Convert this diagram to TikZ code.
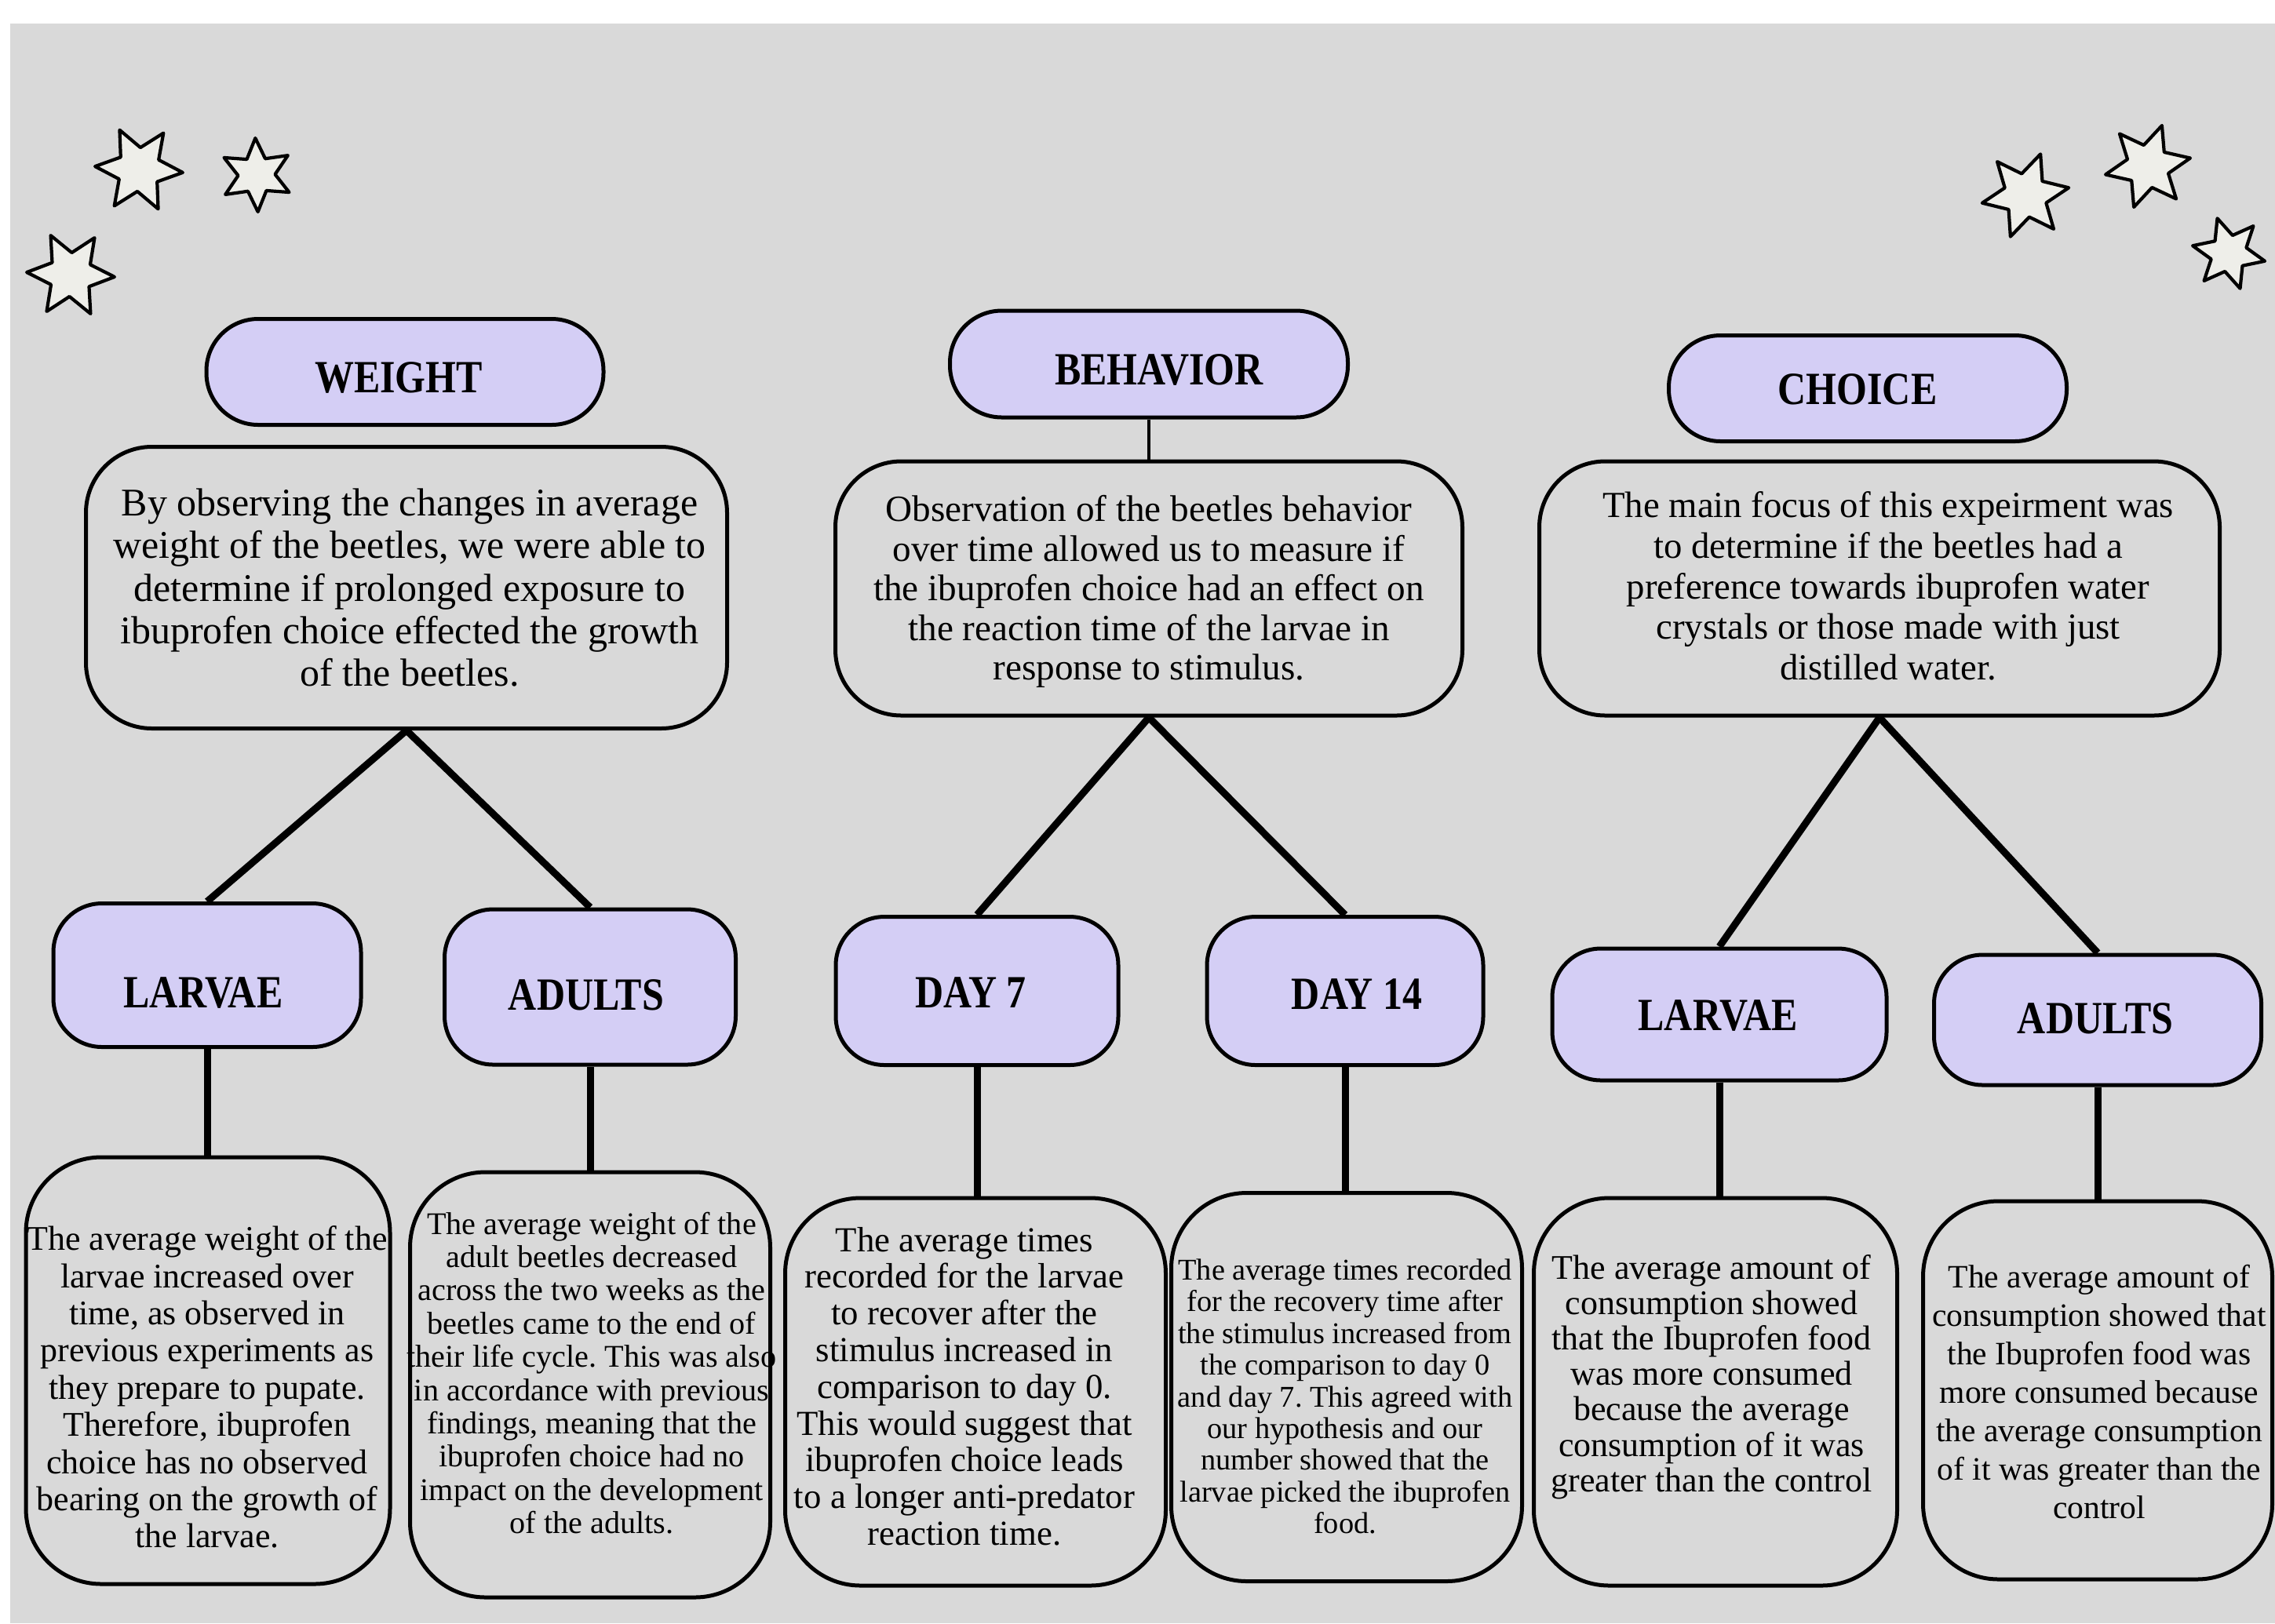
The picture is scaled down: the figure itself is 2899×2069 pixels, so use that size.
\documentclass[tikz,border=0pt]{standalone}
\usepackage{fontspec}
\setmainfont{Liberation Serif}
\newfontfamily\headfont{Liberation Serif}[FakeStretch=0.85]
\usetikzlibrary{backgrounds}

\definecolor{panel}{RGB}{217,217,217}
\definecolor{lavender}{RGB}{212,206,245}
\definecolor{starfill}{RGB}{238,238,233}

\tikzset{
  sixstar/.pic={
    \filldraw[fill=starfill, draw=black, line width=1.05pt, line join=round]
      (0:1) -- (30:.5) -- (60:1) -- (90:.5) -- (120:1) -- (150:.5) --
      (180:1) -- (210:.5) -- (240:1) -- (270:.5) -- (300:1) -- (330:.5) -- cycle;
  }
}

\begin{document}
\frenchspacing
\begin{tikzpicture}[x=0.25pt, y=-0.25pt,
  boxsize/.style 2 args={minimum width=#1*0.25pt, minimum height=#2*0.25pt},
  titlebox/.style={draw=black, line width=1.25pt, fill=lavender, inner sep=0pt, rounded corners=16.5pt},
  subbox/.style={draw=black, line width=1.25pt, fill=lavender, inner sep=0pt, rounded corners=15.5pt},
  descbox/.style={draw=black, line width=1.25pt, fill=panel, inner sep=0pt, rounded corners=21pt},
  bodybox/.style={draw=black, line width=1.25pt, fill=panel, inner sep=0pt, rounded corners=24pt},
  headtext/.style={inner sep=0pt, text height=9.7pt, text depth=0pt,
    font=\headfont\bfseries\fontsize{14.7pt}{16pt}\selectfont},
  bodytext/.style={inner sep=0pt, align=center},
  link/.style={line width=2.25pt},
  thinlink/.style={line width=1.1pt}
]
\useasboundingbox (0,0) rectangle (2899,2069);

% panel behind everything
\begin{scope}[on background layer]
  \fill[panel] (13,30) rectangle (2899,2069);
\end{scope}

% decorative stars
\pic[scale=56, rotate=-4] at (177,216) {sixstar};
\pic[scale=47, rotate=32] at (327,223) {sixstar};
\pic[scale=56, rotate=-3] at (90,350) {sixstar};
\pic[scale=56, rotate=10] at (2581,249) {sixstar};
\pic[scale=55, rotate=11] at (2737,212) {sixstar};
\pic[scale=47, rotate=48] at (2840,323) {sixstar};

% headings
\node[titlebox, boxsize={506}{135}] (weight) at (516,474) {};
\node[titlebox, boxsize={507}{136}] (behavior) at (1464,464) {};
\node[titlebox, boxsize={507}{135}] (choice) at (2380,495) {};
\node[headtext] (weight-t) at (508,481) {WEIGHT};
\node[headtext] (behavior-t) at (1477,471) {BEHAVIOR};
\node[headtext] (choice-t) at (2367,496) {CHOICE};

% summaries
\node[descbox, boxsize={817}{359}] (wdesc) at (518,749) {};
\node[descbox, boxsize={799}{324}] (bdesc) at (1464,750) {};
\node[descbox, boxsize={867}{324}] (cdesc) at (2395,750) {};
\node[bodytext, font=\fontsize{12.5pt}{13.6pt}\selectfont] (wdesc-t) at (522,749)
  {By observing the changes in average\\weight of the beetles, we were able to\\determine if prolonged exposure to\\ibuprofen choice effected the growth\\of the beetles.};
\node[bodytext, font=\fontsize{11.8pt}{12.6pt}\selectfont] (bdesc-t) at (1464,754)
  {Observation of the beetles behavior\\over time allowed us to measure if\\the ibuprofen choice had an effect on\\the reaction time of the larvae in\\response to stimulus.};
\node[bodytext, font=\fontsize{11.7pt}{12.9pt}\selectfont] (cdesc-t) at (2406,747)
  {The main focus of this expeirment was\\to determine if the beetles had a\\preference towards ibuprofen water\\crystals or those made with just\\distilled water.};

% sub-headings
\node[subbox, boxsize={392}{183}] (wlarvae) at (264,1243) {};
\node[subbox, boxsize={371}{198}] (wadults) at (752,1258) {};
\node[subbox, boxsize={360}{189}] (day7) at (1245,1263) {};
\node[subbox, boxsize={352}{189}] (day14) at (1714,1263) {};
\node[subbox, boxsize={426}{168}] (clarvae) at (2191,1293) {};
\node[subbox, boxsize={417}{166}] (cadults) at (2673,1300) {};
\node[headtext] (wlarvae-t) at (259,1265) {LARVAE};
\node[headtext] (wadults-t) at (747,1268) {ADULTS};
\node[headtext] (day7-t) at (1237,1265) {DAY 7};
\node[headtext] (day14-t) at (1729,1267) {DAY 14};
\node[headtext] (clarvae-t) at (2189,1294) {LARVAE};
\node[headtext] (cadults-t) at (2670,1298) {ADULTS};

% result boxes
\node[bodybox, boxsize={464}{544}] (b1) at (265,1747) {};
\node[bodybox, boxsize={459}{542}] (b2) at (752,1765) {};
\node[bodybox, boxsize={485}{494}] (b3) at (1243,1774) {};
\node[bodybox, boxsize={447}{495}] (b4) at (1716,1768) {};
\node[bodybox, boxsize={463}{494}] (b5) at (2186,1774) {};
\node[bodybox, boxsize={445}{482}] (b6) at (2673,1772) {};

\node[bodytext, font=\fontsize{11pt}{11.85pt}\selectfont] (b1t) at (264,1768)
  {The average weight of the\\larvae increased over\\time, as observed in\\previous experiments as\\they prepare to pupate.\\Therefore, ibuprofen\\choice has no observed\\bearing on the growth of\\the larvae.};
\node[bodytext, font=\fontsize{10.05pt}{10.6pt}\selectfont] (b2t) at (754,1750)
  {The average weight of the\\adult beetles decreased\\across the two weeks as the\\beetles came to the end of\\their life cycle. This was also\\in accordance with previous\\findings, meaning that the\\ibuprofen choice had no\\impact on the development\\of the adults.};
\node[bodytext, font=\fontsize{11.2pt}{11.7pt}\selectfont] (b3t) at (1229,1767)
  {The average times\\recorded for the larvae\\to recover after the\\stimulus increased in\\comparison to day 0.\\This would suggest that\\ibuprofen choice leads\\to a longer anti-predator\\reaction time.};
\node[bodytext, font=\fontsize{9.6pt}{10.1pt}\selectfont] (b4t) at (1714,1780)
  {The average times recorded\\for the recovery time after\\the stimulus increased from\\the comparison to day 0\\and day 7. This agreed with\\our hypothesis and our\\number showed that the\\larvae picked the ibuprofen\\food.};
\node[bodytext, font=\fontsize{11pt}{11.3pt}\selectfont] (b5t) at (2181,1755)
  {The average amount of\\consumption showed\\that the Ibuprofen food\\was more consumed\\because the average\\consumption of it was\\greater than the control};
\node[bodytext, font=\fontsize{10.4pt}{12.25pt}\selectfont] (b6t) at (2675,1774)
  {The average amount of\\consumption showed that\\the Ibuprofen food was\\more consumed because\\the average consumption\\of it was greater than the\\control};

% connectors
\begin{scope}[on background layer]
  \draw[thinlink] (behavior.south) -- (behavior.south |- bdesc.north);

  \draw[link] (wdesc.south) -- (wlarvae.north);
  \draw[link] (wdesc.south) -- (wadults.north);
  \draw[link] (bdesc.south) -- (day7.north);
  \draw[link] (bdesc.south) -- (day14.north);
  \draw[link] (cdesc.south) -- (clarvae.north);
  \draw[link] (cdesc.south) -- (cadults.north);

  \draw[link] (wlarvae.south) -- (wlarvae.south |- b1.north);
  \draw[link] (wadults.south) -- (wadults.south |- b2.north);
  \draw[link] (day7.south) -- (day7.south |- b3.north);
  \draw[link] (day14.south) -- (day14.south |- b4.north);
  \draw[link] (clarvae.south) -- (clarvae.south |- b5.north);
  \draw[link] (cadults.south) -- (cadults.south |- b6.north);
\end{scope}
\end{tikzpicture}
\end{document}
